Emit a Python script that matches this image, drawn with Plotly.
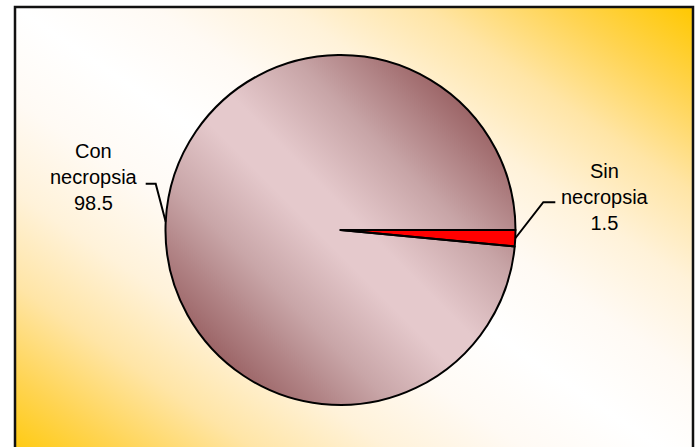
import base64
import math
import plotly.graph_objects as go

# data
labels = ["Sin necropsia", "Con necropsia"]
values = [1.5, 98.5]
slice_colors = ["#ff0000", "rgba(0,0,0,0)"]

W, H = 698, 447
CX, CY, R = 340.5, 230, 175  # pie centre / radius in px


def px(x):
    return x / W


def py(y):
    return 1 - y / H


def svg_uri(svg):
    return "data:image/svg+xml;base64," + base64.b64encode(svg.encode()).decode()


# background: gold in two corners, white along the other diagonal
bg_svg = """<svg xmlns='http://www.w3.org/2000/svg' width='100' height='100' viewBox='0 0 100 100' preserveAspectRatio='none'>
<defs><linearGradient id='g' x1='0' y1='1' x2='1' y2='0'>
<stop offset='0' stop-color='#ffc800'/>
<stop offset='0.1' stop-color='#ffd452'/>
<stop offset='0.2' stop-color='#ffe5a6'/>
<stop offset='0.3' stop-color='#fff2d9'/>
<stop offset='0.4' stop-color='#fffaf4'/>
<stop offset='0.5' stop-color='#ffffff'/>
<stop offset='0.6' stop-color='#fffaf4'/>
<stop offset='0.7' stop-color='#fff2d9'/>
<stop offset='0.8' stop-color='#ffe5a6'/>
<stop offset='0.9' stop-color='#ffd452'/>
<stop offset='1' stop-color='#ffc800'/>
</linearGradient></defs>
<rect x='0' y='0' width='100' height='100' fill='url(#g)'/></svg>"""

# shading of the pie disc
a = 0.5 - 0.3536
b = 0.5 + 0.3536
pie_svg = f"""<svg xmlns='http://www.w3.org/2000/svg' width='100' height='100' viewBox='0 0 100 100'>
<defs><linearGradient id='p' x1='{a}' y1='{b}' x2='{b}' y2='{a}'>
<stop offset='0' stop-color='#9c6567'/>
<stop offset='0.25' stop-color='#c8a5a7'/>
<stop offset='0.45' stop-color='#e5c9cc'/>
<stop offset='0.55' stop-color='#e5c9cc'/>
<stop offset='0.75' stop-color='#c8a5a7'/>
<stop offset='1' stop-color='#9c6567'/>
</linearGradient></defs>
<circle cx='50' cy='50' r='50' fill='url(#p)'/></svg>"""

fig = go.Figure()

fig.add_trace(go.Pie(
    labels=labels,
    values=values,
    sort=False,
    direction="clockwise",
    rotation=90,
    textinfo="none",
    hoverinfo="label+value",
    showlegend=False,
    marker=dict(colors=slice_colors, line=dict(color="black", width=2)),
    domain=dict(x=[px(CX - R), px(CX + R)], y=[py(CY + R), py(CY - R)]),
))

images = [
    dict(source=svg_uri(bg_svg), xref="paper", yref="paper",
         x=px(15), y=py(7), sizex=px(693) - px(15), sizey=py(7) - py(470),
         sizing="stretch", xanchor="left", yanchor="top", layer="below"),
    dict(source=svg_uri(pie_svg), xref="paper", yref="paper",
         x=px(CX - R), y=py(CY - R), sizex=2 * R / W, sizey=2 * R / H,
         sizing="stretch", xanchor="left", yanchor="top", layer="below"),
]

# labels + leader lines at the middle of each slice
label_pos = [(605, 197), (94, 177)]
knee = [(28, -36), (-10, -38)]
tail = [12, -10]
shapes = []
annotations = []
start = 0
for i, (lab, val) in enumerate(zip(labels, values)):
    mid = (start + val / 2) / sum(values) * 2 * math.pi
    start += val
    ex, ey = CX + R * math.cos(mid), CY + R * math.sin(mid)
    kx, ky = ex + knee[i][0], ey + knee[i][1]
    tx = kx + tail[i]
    shapes.append(dict(
        type="path", xref="paper", yref="paper",
        path=f"M {px(ex)} {py(ey)} L {px(kx)} {py(ky)} L {px(tx)} {py(ky)}",
        line=dict(color="black", width=2),
    ))
    lx, ly = label_pos[i]
    annotations.append(dict(
        text=lab.replace(" ", "<br>") + f"<br>{val}",
        xref="paper", yref="paper", x=px(lx), y=py(ly),
        xanchor="center", yanchor="middle", showarrow=False,
        font=dict(family="Liberation Sans, Arial", size=20, color="black"),
    ))

# chart frame
shapes.append(dict(
    type="rect", xref="paper", yref="paper",
    x0=px(15), x1=px(693), y0=py(470), y1=py(7),
    line=dict(color="#111111", width=2.5), fillcolor="rgba(0,0,0,0)",
))

fig.update_layout(
    width=W, height=H,
    margin=dict(l=0, r=0, t=0, b=0),
    paper_bgcolor="white",
    plot_bgcolor="white",
    images=images,
    shapes=shapes,
    annotations=annotations,
)

fig.write_html("out.html", config={"displayModeBar": False},
               post_script="document.body.style.margin = '0';")
